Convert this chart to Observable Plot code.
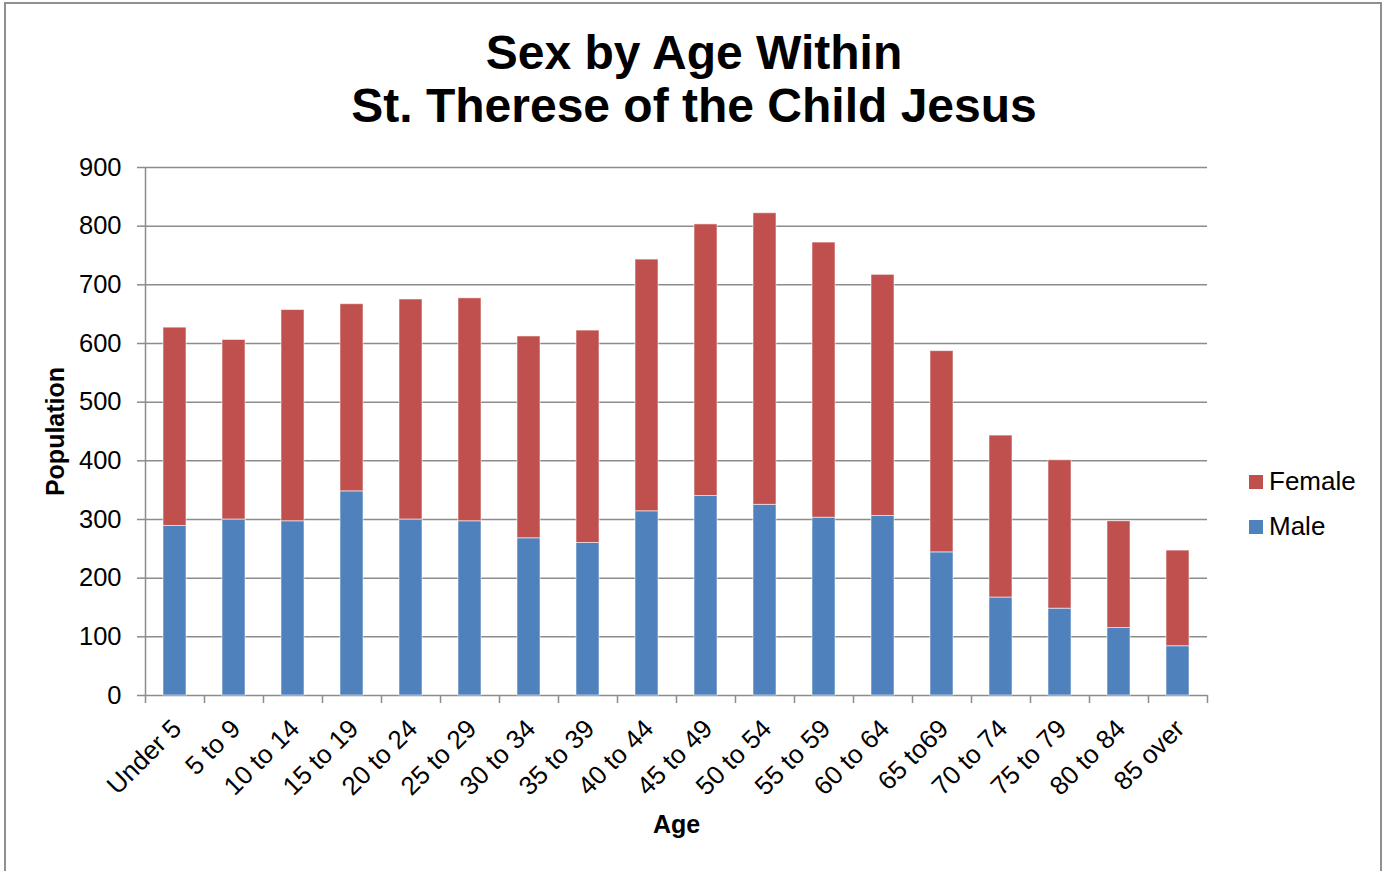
<!DOCTYPE html>
<html>
<head>
<meta charset="utf-8">
<script src="https://cdn.jsdelivr.net/npm/d3@7"></script>
<script src="https://cdn.jsdelivr.net/npm/@observablehq/plot@0.6"></script>
<style>
  html, body { margin: 0; padding: 0; background: #fff; overflow: hidden; }
  body { width: 1386px; height: 871px; position: relative; font-family: "Liberation Sans", Arial, sans-serif; }
  #frame { position: absolute; left: 4px; top: 2px; width: 1378px; height: 900px; border: 2px solid #909090; box-sizing: border-box; pointer-events: none; }
  #title { position: absolute; left: 0; top: 26px; width: 1388px; text-align: center; font-weight: bold; font-size: 48px; line-height: 53px; color: #000; }
  #chart { position: absolute; left: 0; top: 140px; }
  #legend { position: absolute; left: 1249px; top: 459px; font-size: 26px; color: #000; }
  .item { display: flex; align-items: center; height: 45px; }
  .sw { width: 14px; height: 14px; margin-right: 6px; }
</style>
</head>
<body>
<div id="title">Sex by Age Within<br>St. Therese of the Child Jesus</div>
<div id="chart"></div>
<div id="legend"></div>
<div id="frame"></div>
<script>
const categories = ["Under 5","5 to 9","10 to 14","15 to 19","20 to 24","25 to 29","30 to 34","35 to 39","40 to 44","45 to 49","50 to 54","55 to 59","60 to 64","65 to69","70 to 74","75 to 79","80 to 84","85 over"];
const male   = [289, 300, 297, 348, 300, 297, 268, 260, 314, 340, 325, 303, 306, 244, 167, 148, 115, 84];
const female = [338, 306, 360, 319, 375, 380, 344, 362, 429, 463, 497, 469, 411, 343, 276, 253, 182, 163];
const seriesNames = ["Male", "Female"];
const seriesColors = ["#4F81BD", "#C0504D"];
const yTicks = [0, 100, 200, 300, 400, 500, 600, 700, 800, 900];

const rows = [];
categories.forEach((c, i) => {
  rows.push({age: c, sex: "Male", value: male[i]});
  rows.push({age: c, sex: "Female", value: female[i]});
});

const W = 1386, H = 731, ml = 145, mr = 179, mt = 27, mb = 176;
const step = (W - ml - mr) / categories.length;
const font = "Liberation Sans, Arial, sans-serif";

const chart = Plot.plot({
  width: W, height: H,
  marginLeft: ml, marginRight: mr, marginTop: mt, marginBottom: mb,
  style: {fontFamily: font, background: "transparent", color: "#000", overflow: "visible"},
  x: {domain: categories, paddingInner: 0.61, paddingOuter: 0.305, label: null},
  y: {domain: [0, 900], label: null},
  color: {domain: seriesNames, range: seriesColors},
  marks: [
    Plot.gridY(yTicks, {stroke: "#8c8c8c", strokeOpacity: 1, strokeWidth: 1.5}),
    Plot.barY(rows, Plot.stackY({x: "age", y: "value", fill: "sex", stroke: "white", strokeOpacity: 0.55, strokeWidth: 1})),
    Plot.ruleX([categories[0]], {dx: -step / 2, stroke: "#8c8c8c", strokeWidth: 1.5}),
    Plot.axisY({ticks: yTicks, tickSize: 8, tickPadding: 16, fontSize: 25.5, stroke: "#8c8c8c", strokeWidth: 1.5, label: null, color: "#000"}),
    Plot.axisX({tickSize: 8, tickFormat: () => "", dx: -step / 2, stroke: "#8c8c8c", strokeWidth: 1.5, label: null}),
    Plot.axisX([categories[categories.length - 1]], {tickSize: 8, tickFormat: () => "", dx: step / 2, stroke: "#8c8c8c", strokeWidth: 1.5, label: null}),
    Plot.axisX({tickSize: 0, tickPadding: 29, tickRotate: -45, fontSize: 26, dx: 2, label: null}),
    Plot.text(["Population"], {frameAnchor: "left", textAnchor: "middle", rotate: -90, dx: -90, fontSize: 25, fontWeight: "bold", fill: "#000"}),
    Plot.text(["Age"], {frameAnchor: "bottom", dy: 137, fontSize: 25, fontWeight: "bold", fill: "#000"})
  ]
});
document.getElementById("chart").appendChild(chart);

const legend = document.getElementById("legend");
[1, 0].forEach(i => {
  const it = document.createElement("div");
  it.className = "item";
  const sw = document.createElement("div");
  sw.className = "sw";
  sw.style.background = seriesColors[i];
  const t = document.createElement("span");
  t.textContent = seriesNames[i];
  it.appendChild(sw); it.appendChild(t);
  legend.appendChild(it);
});
</script>
</body>
</html>
